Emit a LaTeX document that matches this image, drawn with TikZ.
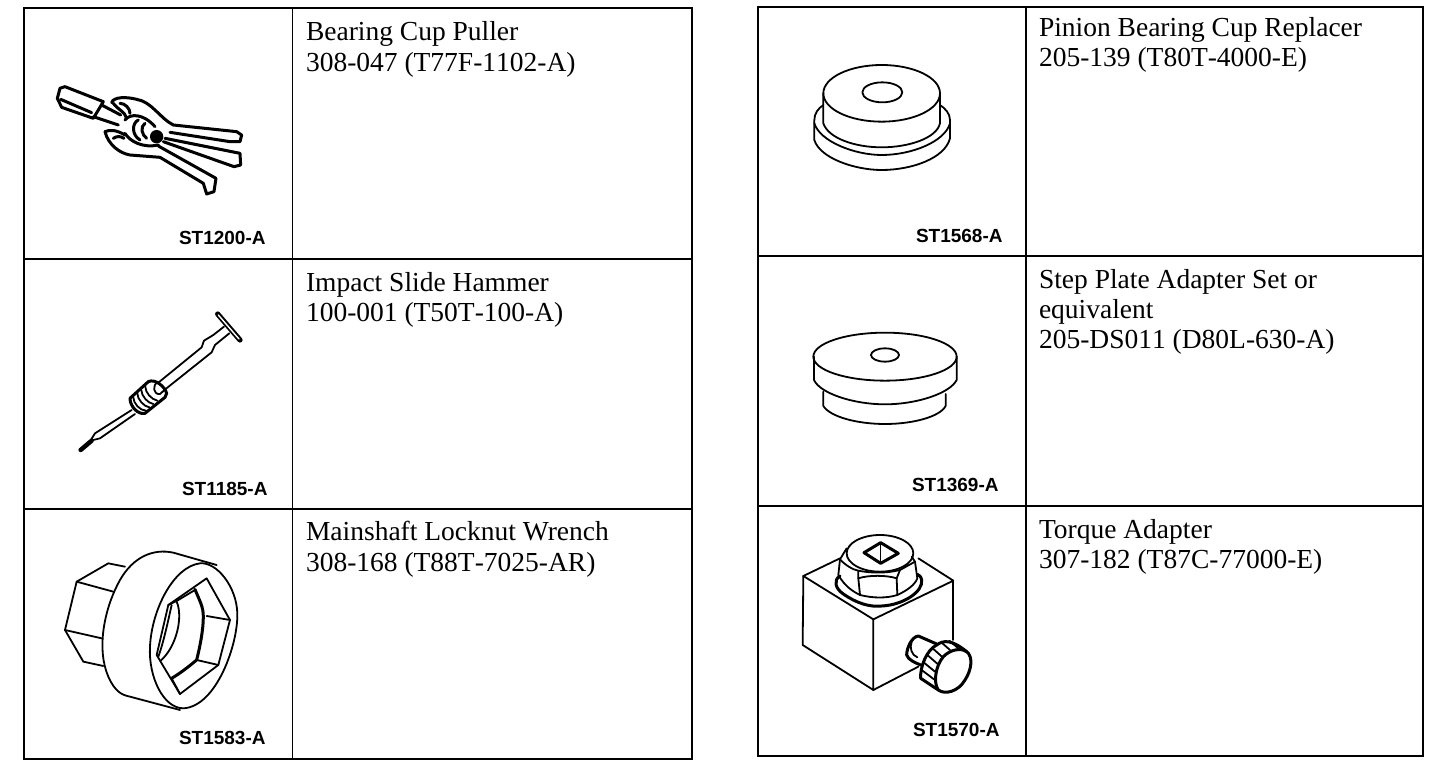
\documentclass[tikz,border=0pt]{standalone}
\usepackage{fontspec}
\setmainfont{Liberation Serif}
\newfontfamily\labelfont{Liberation Sans}[Scale=1]
\newfontfamily\nokern{Liberation Serif}[Kerning=Off]
\tikzset{
  grid/.style={line width=1.7pt,black},
  info/.style={anchor=north west,inner sep=0pt,outer sep=0pt,align=left,font=\fontsize{27.5}{30.5}\selectfont,text=black},
  code/.style={anchor=base west,inner sep=0pt,outer sep=0pt,font=\labelfont\bfseries\fontsize{19}{22}\selectfont,text=black},
  art/.style={line width=1.8pt,line join=round,line cap=round,black},
  fine/.style={line width=1.5pt,line join=round,line cap=round,black},
  heavy/.style={line width=3pt,line join=round,line cap=round,black},
  zoomed/.style={x=0.3333pt,y=-0.3333pt}
}
\begin{document}
\begin{tikzpicture}[x=1pt,y=-1pt]
\useasboundingbox (0,0) rectangle (1456,776);
\fill[white] (0,0) rectangle (1456,776);
% tables
\draw[grid] (24,8) rectangle (692,759);
\draw[grid] (292.5,8) -- (292.5,759);
\draw[grid] (24,259) -- (692,259);
\draw[grid] (24,509) -- (692,509);
\draw[grid] (758,7) rectangle (1423,756);
\draw[grid] (1026,7) -- (1026,756);
\draw[grid] (758,256) -- (1423,256);
\draw[grid] (758,506) -- (1423,506);
% texts
\node[info] (t1) at (306,19.3) {\strut Bearing Cup Puller\\{\nokern 308-047 (T77F-1102-A)}};
\node[info] (t2) at (306,270) {\strut Impact Slide Hammer\\{\nokern 100-001 (T50T-100-A)}};
\node[info] (t3) at (306,519.3) {\strut Mainshaft Locknut Wrench\\{\nokern 308-168 (T88T-7025-AR)}};
\node[info] (t4) at (1039,15) {\strut Pinion Bearing Cup Replacer\\{\nokern 205-139 (T80T-4000-E)}};
\node[info,font=\fontsize{27.5}{30}\selectfont] (t5) at (1039,267.5) {\strut Step Plate Adapter Set or\\equivalent\\{\nokern 205-DS011 (D80L-630-A)}};
\node[info] (t6) at (1039,516.8) {\strut Torque Adapter\\{\nokern 307-182 (T87C-77000-E)}};
\node[code] (c1) at (179,244) {ST1200-A};
\node[code] (c2) at (182,495) {ST1185-A};
\node[code] (c3) at (179,744) {ST1583-A};
\node[code] (c4) at (916,242) {ST1568-A};
\node[code] (c5) at (912,491) {ST1369-A};
\node[code] (c6) at (913,736) {ST1570-A};

% puller
\begin{scope}[shift={(30,70)},zoomed]
\draw[heavy] (82,85) -- (90,55) -- (105,50) -- (220,95) -- (190,145) -- (95,112) -- cycle;
\draw[heavy] (92,88) -- (185,128);
\draw[heavy] (215,105) -- (272,135);
\draw[heavy] (190,140) -- (265,165);
\draw[heavy] (245,98) .. controls (250,80) and (290,80) .. (320,88) .. controls (365,95) and (390,145) .. (430,165) -- (620,185) -- (635,195) -- (630,215) -- (600,215) -- (420,187);
\draw[heavy] (270,100) .. controls (285,100) and (300,115) .. (300,130);
\draw[heavy] (250,100) .. controls (265,120) and (285,125) .. (290,145);
\draw[heavy] (405,205) -- (630,250) -- (632,285) -- (612,290) -- (400,215);
\draw[heavy] (225,185) .. controls (240,178) and (260,180) .. (285,195);
\draw[heavy] (225,185) .. controls (235,225) and (270,250) .. (300,255) -- (390,262) -- (520,340) -- (530,372) -- (552,365) -- (558,325) -- (385,228);
\draw[heavy] (250,205) .. controls (260,198) and (272,198) .. (282,205);
\draw[heavy] (285,150) .. controls (300,130) and (340,130) .. (375,170);
\draw[heavy] (285,190) .. controls (300,215) and (340,235) .. (385,225);
\draw[heavy] (325,150) .. controls (305,160) and (305,195) .. (330,210);
\draw[heavy] (345,160) .. controls (330,170) and (335,195) .. (350,205);
\fill[black] (380,200) circle (20);
\end{scope}

% slide hammer
\begin{scope}[shift={(50,290)},zoomed]
\draw[line width=5.2pt,line cap=round,black] (503,72) -- (570,150);
\draw[line width=1.4pt,line cap=round,white] (505,75) -- (567,147);
\draw[art] (522,110) -- (490,135) -- (462,152) -- (455,172) -- (325,278);
\draw[art] (538,130) -- (495,165) -- (485,187) -- (347,297);
\draw[heavy] (240,325) -- (295,275) .. controls (315,265) and (345,290) .. (350,310) -- (345,322) -- (285,370) .. controls (265,375) and (240,350) .. (240,325);
\draw[art] (325,275) .. controls (305,285) and (310,315) .. (330,312) -- (347,297);
\draw[art] (250,322) .. controls (250,340) and (270,362) .. (288,362);
\draw[art] (262,310) .. controls (262,328) and (282,350) .. (298,352);
\draw[art] (274,300) .. controls (274,318) and (294,340) .. (310,342);
\draw[art] (286,290) .. controls (286,308) and (304,328) .. (322,332);
\draw[art] (245,360) -- (135,430) -- (115,462);
\draw[art] (255,372) -- (150,445) -- (130,450);
\draw[line width=4.5pt,line cap=round,black] (92,480) -- (125,452);
\end{scope}

% locknut wrench
\begin{scope}[shift={(40,530)},zoomed]
\draw[art] (255,110) -- (205,100) -- (110,155) -- (75,300) -- (130,395) -- (190,408);
\draw[art] (110,155) -- (220,185);
\draw[art] (75,300) -- (185,325);
\draw[art] (530,105) -- (400,68) .. controls (340,55) and (280,80) .. (240,150) .. controls (190,240) and (170,360) .. (205,440) .. controls (225,485) and (245,495) .. (270,500) -- (420,540);
\draw[art] (480,100) .. controls (530,95) and (590,170) .. (592,250) .. controls (595,340) and (530,530) .. (430,535) .. controls (370,535) and (325,440) .. (330,350) .. controls (335,240) and (400,110) .. (480,100);
\draw[art] (500,145) -- (570,270) -- (535,405) -- (420,492) -- (350,375) -- (385,225) -- cycle;
\draw[heavy] (465,178) .. controls (480,215) and (490,230) .. (490,260) .. controls (490,300) and (480,350) .. (470,390) .. controls (440,415) and (420,430) .. (395,445);
\draw[art] (500,258) -- (570,270);
\draw[art] (470,390) -- (535,405);
\draw[art] (395,445) -- (420,492);
\draw[art] (385,225) -- (415,210) -- (465,180);
\draw[art] (395,225) .. controls (385,270) and (370,340) .. (355,380);
\draw[art] (410,215) .. controls (430,260) and (410,350) .. (362,392);
\end{scope}

% pinion cup replacer
\begin{scope}[shift={(805,60)},zoomed]
\draw[art] (230,100) ellipse (175 and 85);
\draw[art] (232,97) ellipse (60 and 30);
\draw[art] (55,100) -- (55,190) .. controls (70,235) and (150,262) .. (230,262) .. controls (310,262) and (395,235) .. (405,190) -- (405,100);
\draw[art] (55,135) .. controls (40,145) and (28,160) .. (28,180) -- (28,240) .. controls (45,295) and (150,330) .. (230,330) .. controls (320,330) and (420,295) .. (435,235) -- (435,180) .. controls (435,160) and (420,145) .. (405,135);
\draw[art] (28,190) .. controls (45,245) and (150,285) .. (230,285) .. controls (320,285) and (420,245) .. (435,190);
\end{scope}

% step plate adapter
\begin{scope}[shift={(800,310)},zoomed]
\draw[art] (255,140) ellipse (215 and 72);
\draw[art] (255,135) ellipse (42 and 20);
\draw[art] (42,140) -- (42,210) .. controls (60,250) and (160,283) .. (255,283) .. controls (350,283) and (450,250) .. (470,210) -- (470,140);
\draw[art] (70,245) -- (70,288) .. controls (90,320) and (170,342) .. (255,342) .. controls (340,342) and (420,320) .. (437,288) -- (437,252);
\end{scope}

% torque adapter
\begin{scope}[shift={(790,520)},zoomed]
\draw[art] (150,115) -- (40,168) -- (250,298) -- (490,182) -- (385,115);
\draw[art] (40,168) -- (38,375) -- (250,510) -- (250,298);
\draw[art] (250,510) -- (385,440);
\draw[art] (490,182) -- (490,360);
\draw[art] (270,100) ellipse (100 and 55);
\draw[heavy] (222,98) -- (272,68) -- (325,100) -- (272,130) -- cycle;
\draw[fine] (272,68) -- (272,130);
\draw[art] (170,85) -- (150,118) -- (145,165) .. controls (165,200) and (190,215) .. (210,225) .. controls (250,235) and (290,235) .. (322,225) .. controls (350,212) and (375,195) .. (382,175) -- (375,125) -- (365,110);
\draw[art] (150,118) .. controls (165,135) and (190,150) .. (205,152) -- (205,175) -- (210,225);
\draw[art] (205,175) .. controls (235,165) and (290,165) .. (320,175) -- (322,225);
\draw[art] (320,175) -- (330,150) -- (375,125);
\draw[art] (205,152) .. controls (245,160) and (290,160) .. (330,150);
\draw[heavy] (150,168) .. controls (130,180) and (135,205) .. (160,222) .. controls (200,250) and (240,262) .. (275,258) .. controls (340,255) and (400,215) .. (395,180) .. controls (393,170) and (388,165) .. (382,163);
% knob
\draw[heavy] (440,372) -- (385,348) .. controls (365,350) and (350,385) .. (350,405) .. controls (355,420) and (375,428) .. (392,435);
\draw[art] (365,365) .. controls (358,385) and (365,405) .. (382,412);
\draw[heavy] (440,375) .. controls (410,390) and (390,440) .. (392,475) -- (445,510);
\draw[heavy] (440,375) .. controls (460,360) and (485,358) .. (530,395);
\draw[heavy] (530,395) .. controls (550,410) and (545,450) .. (525,480) .. controls (505,515) and (465,525) .. (445,510) .. controls (430,490) and (435,440) .. (460,410) .. controls (480,390) and (510,382) .. (530,395);
\draw[art] (455,368) -- (480,390);
\draw[art] (478,362) -- (505,385);
\draw[art] (428,385) -- (458,412);
\draw[art] (412,405) -- (443,432);
\draw[art] (402,428) -- (435,455);
\draw[art] (395,450) -- (432,478);
\end{scope}
\end{tikzpicture}
\end{document}
